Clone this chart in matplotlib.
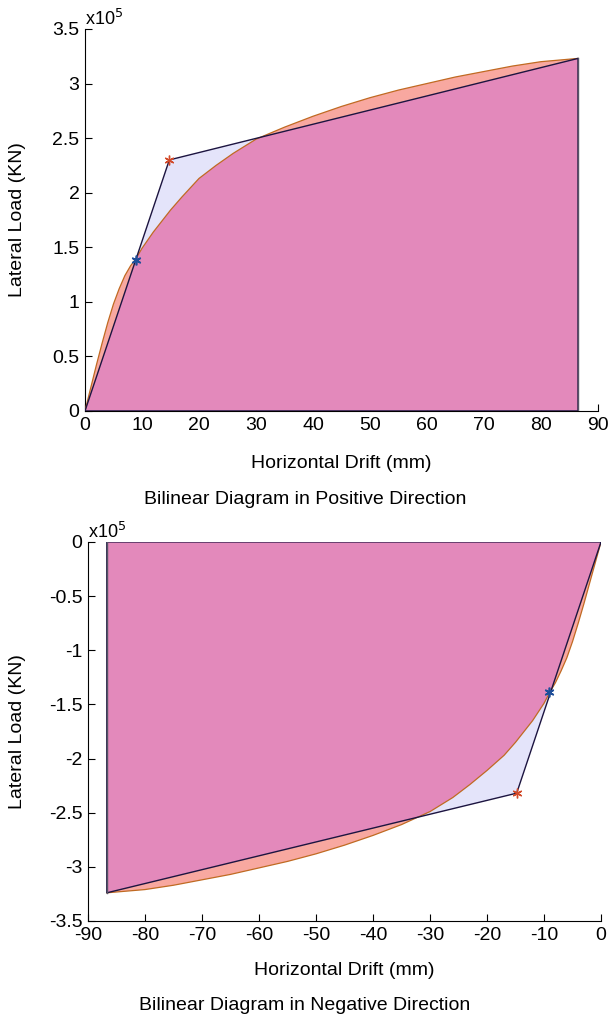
import numpy as np
import matplotlib
matplotlib.use("Agg")
import matplotlib.pyplot as plt
from matplotlib.patches import Polygon

plt.rcParams['font.family'] = ['Liberation Sans', 'DejaVu Sans']
plt.rcParams['axes.unicode_minus'] = False

# pushover curve, positive direction (load in 1e5 kN)
pos_drift = [0, 1, 2, 3, 4, 5, 6, 7, 8, 9, 10, 12, 15, 17, 20, 23, 26, 30, 35, 40, 45, 50, 55, 60, 65, 70,
             75, 80, 86.5]
pos_load = [0, 0.21, 0.42, 0.62, 0.81, 0.98, 1.12, 1.24, 1.33, 1.40, 1.49, 1.64, 1.84, 1.96, 2.13, 2.25,
            2.36, 2.49, 2.60, 2.70, 2.79, 2.87, 2.94, 3.00, 3.06, 3.11, 3.16, 3.20, 3.23]
# bilinear idealisation, positive direction
pos_bi_drift = [0, 14.8, 86.5]
pos_bi_load = [0, 2.30, 3.23]
pos_yield = (8.9, 1.38)

# negative direction
neg_drift = [0, -1, -2, -3, -4, -5, -6, -7, -8, -9, -10, -12, -15, -17, -20, -23, -26, -30, -35, -40, -45,
             -50, -55, -60, -65, -70, -75, -80, -86.7]
neg_load = [0, -0.19, -0.38, -0.57, -0.75, -0.92, -1.07, -1.19, -1.30, -1.39, -1.49, -1.65, -1.85, -1.97,
            -2.11, -2.24, -2.36, -2.49, -2.61, -2.71, -2.80, -2.88, -2.95, -3.01, -3.07, -3.12, -3.17,
            -3.21, -3.24]
neg_bi_drift = [0, -14.8, -86.7]
neg_bi_load = [0, -2.32, -3.24]
neg_yield = (-9.1, -1.39)

c_push = '#f8a8a0'
c_bi = '#e4e4fa'
c_both = '#e389bb'


def draw(ax, d, p, bd, bp, yld):
    push_poly = np.column_stack([d + [d[-1]], p + [0]])
    bi_poly = np.column_stack([bd + [bd[-1]], bp + [0]])
    ax.add_patch(Polygon(push_poly, closed=True, facecolor=c_push, edgecolor='none', zorder=1))
    ax.add_patch(Polygon(bi_poly, closed=True, facecolor=c_bi, edgecolor='none', zorder=1.5))
    clip = Polygon(bi_poly, closed=True, transform=ax.transData, facecolor='none', edgecolor='none')
    both = Polygon(push_poly, closed=True, facecolor=c_both, edgecolor='none', zorder=2)
    ax.add_patch(both)
    both.set_clip_path(clip)
    ax.plot(d, p, color='#c06a22', lw=0.9, zorder=3)
    ax.plot(bd + [bd[-1], 0], bp + [0, 0], color='#1c1440', lw=1.0, zorder=4)
    ax.plot([bd[-1], bd[-1]], [0, bp[-1]], color='#555566', lw=1.0, zorder=4)
    ax.plot(bd[1], bp[1], marker=(6, 2, 0), color='#d24a2a', ms=7, mew=1, zorder=5)
    ax.plot(yld[0], yld[1], marker=(6, 2, 0), color='#1f4f9a', ms=7, mew=1.2, zorder=5)
    for s in ['top', 'right']:
        ax.spines[s].set_visible(False)
    ax.tick_params(direction='in', length=5, labelsize=14, width=0.8, pad=4)
    ax.text(0, 1.0, r'x10$^5$', transform=ax.transAxes, fontsize=13, va='bottom', ha='left')
    ax.set_xlabel('Horizontal Drift (mm)', fontsize=14)
    ax.set_ylabel('Lateral Load (KN)', fontsize=14)


fig = plt.figure(figsize=(6.1, 10.19), dpi=100)
ax1 = fig.add_axes([0.1393, 0.5967, 0.841, 0.3749])
draw(ax1, pos_drift, pos_load, pos_bi_drift, pos_bi_load, pos_yield)
ax1.set_xlim(0, 90)
ax1.set_ylim(0, 3.5)
ax1.set_xticks(np.arange(0, 91, 10))
ax1.set_yticks(np.arange(0, 3.51, 0.5))
ax1.set_yticklabels(['0', '0.5', '1', '1.5', '2', '2.5', '3', '3.5'])
ax1.yaxis.set_label_coords(-0.115, 0.5)
ax1.xaxis.set_label_coords(0.5, -0.115)
fig.text(0.5, 1 - 500 / 1019, 'Bilinear Diagram in Positive Direction', ha='center', va='center', fontsize=14)

ax2 = fig.add_axes([0.1443, 0.0962, 0.841, 0.372])
draw(ax2, neg_drift, neg_load, neg_bi_drift, neg_bi_load, neg_yield)
ax2.set_xlim(-90, 0)
ax2.set_ylim(-3.5, 0)
ax2.set_xticks(np.arange(-90, 1, 10))
ax2.set_yticks(np.arange(-3.5, 0.01, 0.5))
ax2.set_yticklabels(['-3.5', '-3', '-2.5', '-2', '-1.5', '-1', '-0.5', '0'])
ax2.yaxis.set_label_coords(-0.121, 0.5)
ax2.xaxis.set_label_coords(0.5, -0.108)
fig.text(0.5, 1 - 1005 / 1019, 'Bilinear Diagram in Negative Direction', ha='center', va='center', fontsize=14)

fig.savefig('out.png', dpi=100)
